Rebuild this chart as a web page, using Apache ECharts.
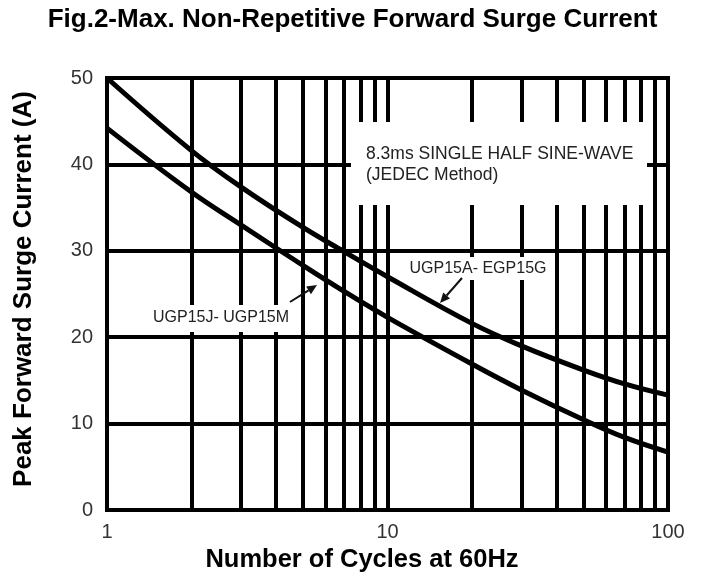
<!DOCTYPE html>
<html><head><meta charset="utf-8">
<script src="https://cdn.jsdelivr.net/npm/echarts@6/dist/echarts.min.js"></script>
<style>html,body{margin:0;padding:0;background:#fff}#c{width:705px;height:574px}</style>
</head><body><div id="c"></div>
<script>
// Data
const cycles   = [1, 2, 3, 5, 7, 10, 20, 30, 50, 70, 100];
const surgeA_G = [50, 41.6, 37.4, 32.7, 29.9, 27.0, 21.6, 19.0, 16.2, 14.6, 13.3];
const surgeJ_M = [44.2, 36.8, 33.0, 28.3, 25.3, 22.3, 16.9, 13.9, 10.45, 8.4, 6.7];
const minorX   = [2, 3, 4, 5, 6, 7, 8, 9, 20, 30, 40, 50, 60, 70, 80, 90];
const xLabels  = [1, 10, 100];
const yTicks   = [0, 10, 20, 30, 40, 50];
const titleText = 'Fig.2-Max. Non-Repetitive Forward Surge Current';
const xName = 'Number of Cycles at 60Hz';
const yName = 'Peak Forward Surge Current (A)';
const noteLines = ['8.3ms SINGLE HALF SINE-WAVE', '(JEDEC Method)'];
const labelAG = 'UGP15A- EGP15G';
const labelJM = 'UGP15J- UGP15M';

const FONT = '"Liberation Sans", Arial, sans-serif';
const chart = echarts.init(document.getElementById('c'));
const toPairs = (xs, ys) => xs.map((x, i) => [x, ys[i]]);

function arrow(x1, y1, x2, y2) {
  const a = Math.atan2(y2 - y1, x2 - x1), L = 10, W = 4.5;
  const bx = x2 - L * Math.cos(a), by = y2 - L * Math.sin(a);
  const nx = -Math.sin(a) * W, ny = Math.cos(a) * W;
  return [
    { type: 'line', z: 20, shape: { x1, y1, x2: bx, y2: by }, style: { stroke: '#111', lineWidth: 2 } },
    { type: 'polygon', z: 20, shape: { points: [[x2, y2], [bx + nx, by + ny], [bx - nx, by - ny]] }, style: { fill: '#111' } }
  ];
}

chart.setOption({
  animation: false,
  backgroundColor: '#fff',
  title: {
    text: titleText, left: 'center', top: 2,
    textStyle: { fontFamily: FONT, fontWeight: 'bold', fontSize: 26, color: '#000' }
  },
  grid: { left: 107, right: 37, top: 78, bottom: 64, show: true, borderColor: '#000', borderWidth: 4, backgroundColor: 'transparent' },
  xAxis: {
    type: 'log', logBase: 10, min: 1, max: 100,
    axisLine: { show: true, lineStyle: { color: '#000', width: 4 } },
    axisTick: { show: false },
    axisLabel: { fontFamily: FONT, fontSize: 20, color: '#333', margin: 12,
      formatter: v => xLabels.includes(Math.round(v)) ? String(Math.round(v)) : '' },
    splitLine: { show: true, lineStyle: { color: '#000', width: 4 } }
  },
  yAxis: {
    type: 'value', min: 0, max: 50, interval: 10,
    axisLine: { show: true, lineStyle: { color: '#000', width: 4 } },
    axisTick: { show: false },
    axisLabel: { fontFamily: FONT, fontSize: 20, color: '#333', margin: 14,
      formatter: v => yTicks.includes(v) ? String(v) : '' },
    splitLine: { show: true, lineStyle: { color: '#000', width: 4 } }
  },
  series: [
    {
      type: 'line', data: [], z: 1, silent: true,
      markLine: {
        z: 1, silent: true, symbol: ['none', 'none'], animation: false,
        label: { show: false },
        lineStyle: { color: '#000', width: 4, type: 'solid' },
        data: minorX.map(v => ({ xAxis: v }))
      }
    },
    {
      name: labelAG, type: 'line', smooth: 0.4, symbol: 'none', z: 10,
      lineStyle: { color: '#000', width: 5 }, data: toPairs(cycles, surgeA_G)
    },
    {
      name: labelJM, type: 'line', smooth: 0.4, symbol: 'none', z: 10,
      lineStyle: { color: '#000', width: 5 }, data: toPairs(cycles, surgeJ_M)
    }
  ],
  graphic: [
    // white note box that interrupts the grid
    { type: 'rect', z: 5, shape: { x: 351, y: 122, width: 296, height: 83 }, style: { fill: '#fff' } },
    { type: 'text', z: 21, x: 366, y: 154, style: { text: noteLines[0], font: '17.5px ' + FONT, fill: '#222', textVerticalAlign: 'middle' } },
    { type: 'text', z: 21, x: 366, y: 175, style: { text: noteLines[1], font: '17.5px ' + FONT, fill: '#222', textVerticalAlign: 'middle' } },
    // curve labels with white backing
    { type: 'rect', z: 5, shape: { x: 407, y: 257, width: 143, height: 23 }, style: { fill: '#fff' } },
    { type: 'text', z: 21, x: 478, y: 269, style: { text: labelAG, font: '16px ' + FONT, fill: '#222', textAlign: 'center', textVerticalAlign: 'middle' } },
    { type: 'rect', z: 5, shape: { x: 150, y: 305, width: 142, height: 27 }, style: { fill: '#fff' } },
    { type: 'text', z: 21, x: 221, y: 318, style: { text: labelJM, font: '16px ' + FONT, fill: '#222', textAlign: 'center', textVerticalAlign: 'middle' } },
    ...arrow(462, 278, 440, 303),
    ...arrow(290, 302, 317, 285),
    // axis names
    { type: 'text', z: 21, x: 362, y: 560, style: { text: xName, font: 'bold 25.5px ' + FONT, fill: '#000', textAlign: 'center', textVerticalAlign: 'middle' } },
    { type: 'text', z: 21, x: 24, y: 289, rotation: Math.PI / 2, style: { text: yName, font: 'bold 26px ' + FONT, fill: '#000', textAlign: 'center', textVerticalAlign: 'middle' } }
  ]
});
</script>
</body></html>
